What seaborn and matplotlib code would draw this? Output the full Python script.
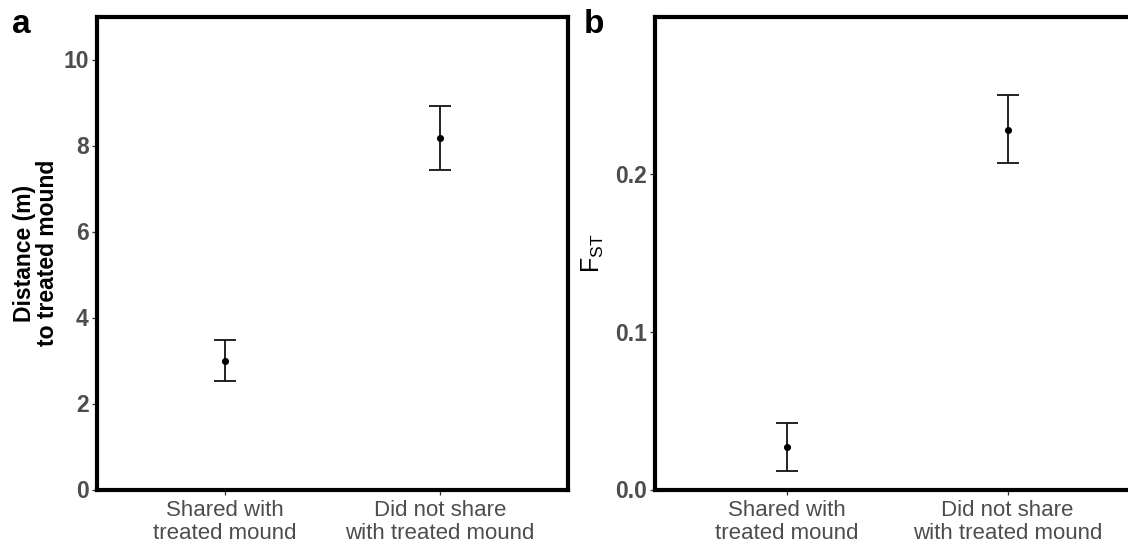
import matplotlib
matplotlib.use("Agg")
import matplotlib.pyplot as plt
import seaborn as sns
import pandas as pd

# Group summaries: mean with lower / upper error bounds
groups = ["Shared with\ntreated mound", "Did not share\nwith treated mound"]
dist_mean = [3.00, 8.17]
dist_lo = [2.53, 7.42]
dist_hi = [3.48, 8.92]
fst_mean = [0.027, 0.228]
fst_lo = [0.012, 0.207]
fst_hi = [0.042, 0.250]

dist_ticks = [0, 2, 4, 6, 8, 10]
fst_ticks = [0.0, 0.1, 0.2]

sns.set_theme(style="white")
plt.rcParams["font.family"] = ["Liberation Sans", "DejaVu Sans"]
plt.rcParams["mathtext.fontset"] = "custom"
plt.rcParams["mathtext.rm"] = "Liberation Sans"
plt.rcParams["mathtext.it"] = "Liberation Sans:italic"

W, H = 1128, 545
fig = plt.figure(figsize=(W / 100, H / 100), dpi=100)

def px_axes(left, top, right, bottom):
    return fig.add_axes([left / W, 1 - bottom / H, (right - left) / W, (bottom - top) / H])

ax_a = px_axes(96.5, 16.5, 568.5, 489.5)
ax_b = px_axes(654.5, 16.5, 1140, 489.5)

tick_grey = "#4D4D4D"

def draw_panel(ax, mean, lo, hi, ylim, ticks, ticklabels):
    df = pd.DataFrame({"group": groups, "mean": mean, "lo": lo, "hi": hi})
    xs = list(range(len(df)))
    ax.errorbar(xs, df["mean"],
                yerr=[df["mean"] - df["lo"], df["hi"] - df["mean"]],
                fmt="none", ecolor="#111111", elinewidth=1.3,
                capsize=7.6, capthick=1.3, zorder=2)
    sns.scatterplot(data=df, x="group", y="mean", ax=ax, color="black",
                    s=26, edgecolor="black", linewidth=0, zorder=3, legend=False)
    ax.set_xlim(-0.6, 1.6)
    ax.set_ylim(*ylim)
    ax.set_yticks(ticks)
    ax.set_yticklabels(ticklabels, fontsize=16.5, fontweight="bold", color=tick_grey)
    ax.set_xticks(xs)
    ax.set_xticklabels(groups, fontsize=16, color=tick_grey, linespacing=1.15)
    ax.tick_params(axis="y", length=3.5, width=0.9, color="#333333",
                   direction="out", pad=2, left=True)
    ax.tick_params(axis="x", length=3.5, width=0.9, color="#333333",
                   direction="out", pad=4, bottom=True)
    ax.set_xlabel("")
    for s in ax.spines.values():
        s.set_visible(True)
        s.set_color("black")
        s.set_linewidth(3.0)
    ax.set_facecolor("white")

draw_panel(ax_a, dist_mean, dist_lo, dist_hi, (0, 11.0), dist_ticks,
           [str(t) for t in dist_ticks])
draw_panel(ax_b, fst_mean, fst_lo, fst_hi, (0, 0.30), fst_ticks,
           [f"{t:.1f}" for t in fst_ticks])

ax_a.set_ylabel("Distance (m)\nto treated mound", fontsize=16.5, fontweight="bold",
                color="black", linespacing=1.0, labelpad=3)
ax_b.set_ylabel(r"F$_{\mathrm{ST}}$", fontsize=18, color="black", labelpad=6.5)

fig.text(12 / W, 1 - 33 / H, "a", fontsize=24, fontweight="bold", color="black")
fig.text(584 / W, 1 - 33 / H, "b", fontsize=24, fontweight="bold", color="black")

fig.savefig("out.png", dpi=100, facecolor="white")
